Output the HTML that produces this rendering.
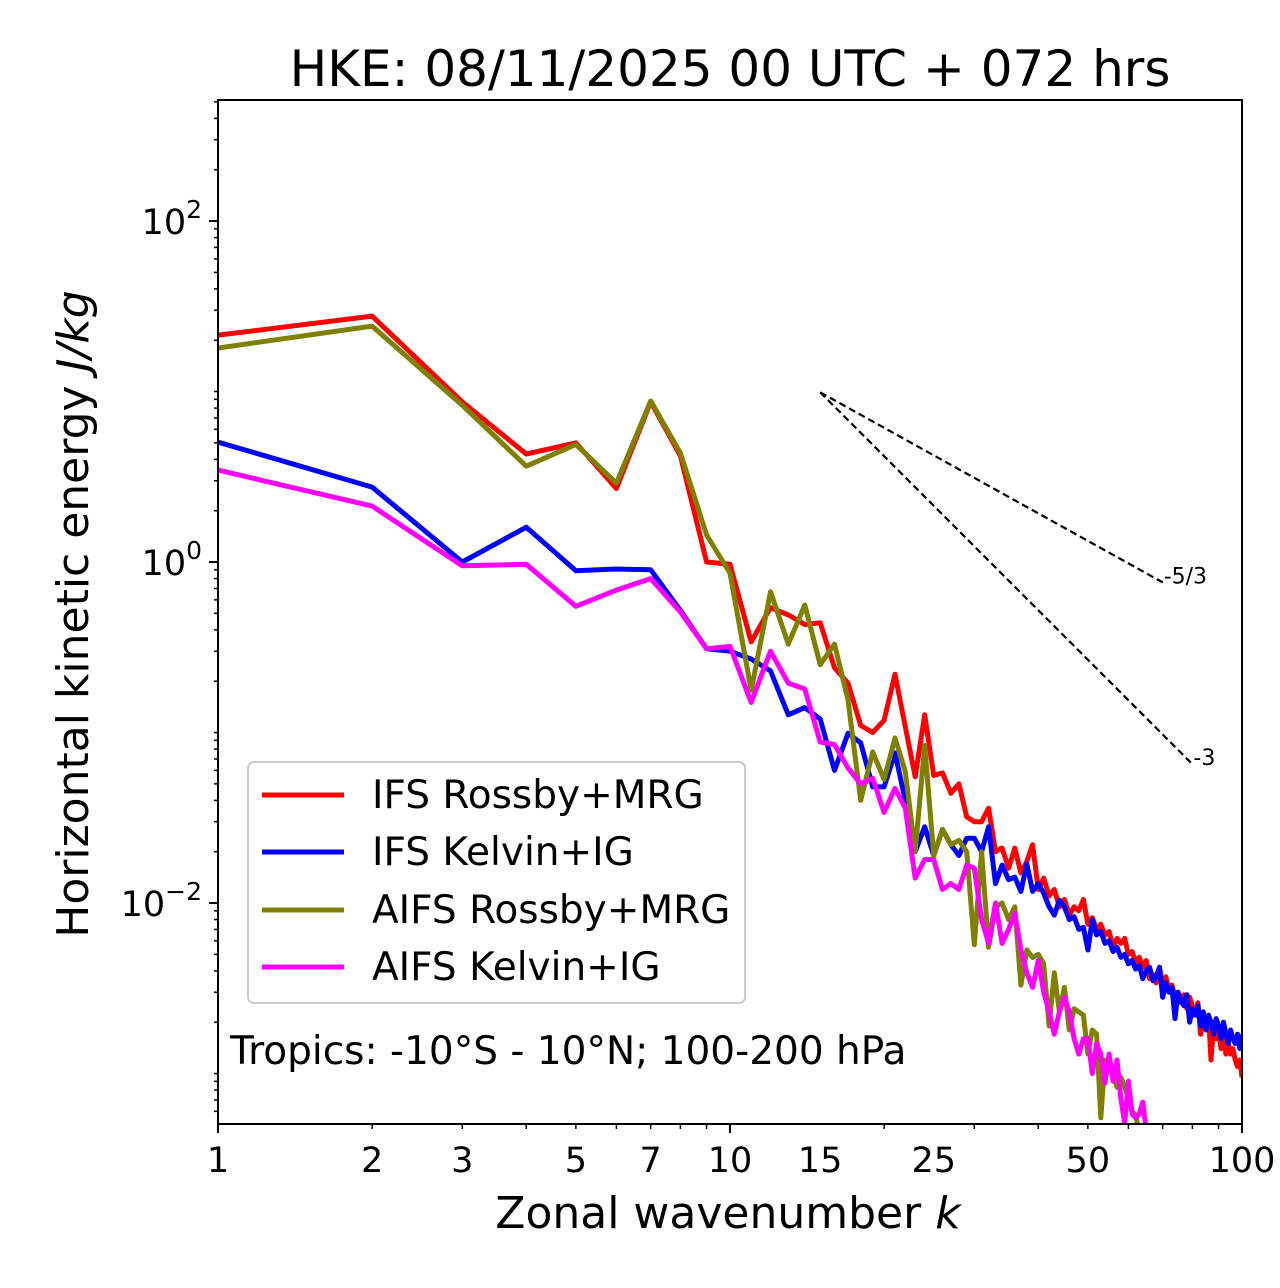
<!DOCTYPE html>
<html><head><meta charset="utf-8"><style>
body{margin:0;background:#fff;}
svg{display:block;font-family:"DejaVu Sans","Liberation Sans",sans-serif;}
</style></head><body>
<svg id="chart" width="1280" height="1288" xmlns="http://www.w3.org/2000/svg">
<defs><clipPath id="plotclip"><rect x="218" y="100" width="1024" height="1024"/></clipPath></defs>
<text x="730" y="86" font-size="50" text-anchor="middle">HKE: 08/11/2025 00 UTC + 072 hrs</text>
<g id="axes"></g>
<g id="series" clip-path="url(#plotclip)"></g>
<rect x="218" y="100" width="1024" height="1024" fill="none" stroke="#000" stroke-width="2"/>
<text transform="translate(88,614) rotate(-90)" font-size="44" text-anchor="middle">Horizontal kinetic energy <tspan font-style="italic">J/kg</tspan></text>
<text x="728" y="1228" font-size="44" text-anchor="middle">Zonal wavenumber <tspan font-style="italic">k</tspan></text>
<text x="230" y="1064" font-size="39">Tropics: -10°S - 10°N; 100-200 hPa</text>
<g>
<rect x="248" y="762" width="497" height="241" rx="6" fill="#fff" fill-opacity="0.8" stroke="#ccc" stroke-width="2"/>
<line x1="262" y1="795" x2="344" y2="795" stroke="#ff0000" stroke-width="5"/>
<text x="372" y="808" font-size="39">IFS Rossby+MRG</text>
<line x1="262" y1="852" x2="344" y2="852" stroke="#0000ff" stroke-width="5"/>
<text x="372" y="865" font-size="39">IFS Kelvin+IG</text>
<line x1="262" y1="910" x2="344" y2="910" stroke="#808000" stroke-width="5"/>
<text x="372" y="923" font-size="39">AIFS Rossby+MRG</text>
<line x1="262" y1="967" x2="344" y2="967" stroke="#ff00ff" stroke-width="5"/>
<text x="372" y="980" font-size="39">AIFS Kelvin+IG</text>
</g>
</svg>
<script>
const ifsRossby=[21.4,27.7,8.7,4.3,5.0,2.7,8.7,4.2,1.0,0.97,0.34,0.54,0.49,0.43,0.44,0.24,0.195,0.11,0.10,0.118,0.22,0.108,0.055,0.127,0.056,0.058,0.044,0.05,0.032,0.030,0.030,0.036,0.020,0.021,0.016,0.021,0.015,0.0175,0.022,0.012,
0.014,0.011,0.012,0.0095,0.0105,0.0085,0.0095,0.009,0.0105,0.0075,0.0082,0.007,0.0075,0.0065,0.0068,0.0055,0.0062,0.0058,0.0062,0.005,0.0052,0.0045,0.0048,0.0042,0.0046,0.0036,0.0038,0.0034,0.0042,0.0033,0.0037,0.0031,0.0033,0.0028,0.0030,0.0026,0.0029,0.0024,0.0028,0.0025,0.0022,0.0026,0.0017,0.0023,0.0020,0.0022,0.0012,0.0019,0.0016,0.0018,0.0014,0.0017,0.0013,0.0015,0.0013,0.0014,0.0012,0.0011,0.0012,0.00095];
const ifsKelvin=[5.05,2.75,1.0,1.6,0.89,0.91,0.9,0.52,0.31,0.30,0.27,0.23,0.127,0.14,0.12,0.06,0.099,0.087,0.048,0.048,0.076,0.04,0.02,0.028,0.019,0.027,0.022,0.019,0.024,0.024,0.02,0.028,0.013,0.0167,0.0137,0.0142,0.0117,0.017,0.0117,0.013,
0.0114,0.0095,0.0085,0.0104,0.0095,0.008,0.0083,0.007,0.0072,0.0053,0.008,0.0065,0.0068,0.0058,0.006,0.0052,0.0055,0.0048,0.005,0.0044,0.0046,0.0041,0.0043,0.0036,0.0040,0.0042,0.0035,0.0037,0.0042,0.0028,0.0034,0.0030,0.0032,0.0021,0.0030,0.0027,0.0025,0.0029,0.0020,0.0024,0.0022,0.0025,0.0019,0.0023,0.0018,0.0022,0.0020,0.0017,0.0021,0.0019,0.0016,0.0020,0.0017,0.0015,0.0018,0.0016,0.0015,0.0017,0.0014,0.0017];
const aifsRossby=[18,24.2,8.3,3.65,4.9,2.9,8.8,4.36,1.44,0.86,0.177,0.67,0.33,0.56,0.25,0.33,0.155,0.04,0.077,0.053,0.093,0.059,0.02,0.084,0.019,0.027,0.022,0.0233,0.020,0.0057,0.02,0.0055,0.0095,0.01,0.008,0.0095,0.0033,0.0053,0.0048,0.005,0.0044,0.0019,0.0039,0.0023,0.0032,0.0018,0.0024,0.0023,0.0022,0.0013,0.0018,0.0017,0.00055,0.0012,0.0011,0.001,0.00083,0.00095,0.00083,0.00072,0.0006,0.00057,0.00045,0.0004,0.00035];
const aifsKelvin=[3.46,2.13,0.95,0.97,0.55,0.685,0.8,0.51,0.31,0.32,0.15,0.30,0.195,0.18,0.088,0.085,0.062,0.05,0.054,0.034,0.047,0.036,0.014,0.018,0.018,0.012,0.013,0.012,0.0167,0.016,0.008,0.0058,0.01,0.0058,0.007,0.0087,0.0053,0.0039,0.0032,0.0046,0.003,0.0023,0.0017,0.0023,0.0028,0.0023,0.0016,0.0013,0.0016,0.0016,0.001,0.0015,0.0013,0.00088,0.0013,0.0009,0.0012,0.00071,0.00051,0.0009,0.00058,0.00055,0.00058,0.00068,0.00047];
const xTickValues=[1,2,3,5,7,10,15,25,50,100];
const xTickLabels=["1","2","3","5","7","10","15","25","50","100"];
const yTickExps=[2,0,-2];
const slopeRefs=[{name:"-5/3",p:5/3,k0:15,e0:9.9,k1:70},{name:"-3",p:3,k0:15,e0:9.9,k1:80}];

const NS="http://www.w3.org/2000/svg";
const X0=218,X1=1242,Y0=100,Y1=1124,YMAX=2.71,YMIN=-3.296;
const xs=k=>X0+(X1-X0)*Math.log10(k)/2;
const ys=v=>Y0+(Y1-Y0)*(YMAX-Math.log10(v))/(YMAX-YMIN);
function mk(tag,attrs,parent){const e=document.createElementNS(NS,tag);for(const a in attrs)e.setAttribute(a,attrs[a]);parent.appendChild(e);return e;}
const axes=document.getElementById('axes'),series=document.getElementById('series');

for(let d=0;d<2;d++)for(let m=1;m<10;m++){const k=m*Math.pow(10,d);const x=xs(k);const major=(m===1);
 const t=mk('line',{x1:x,x2:x,y1:Y1,y2:Y1+(major?9:5),stroke:'#000','stroke-width':major?2:1.5},axes);
 
 }
{const t=mk('line',{x1:X1,x2:X1,y1:Y1,y2:Y1+9,stroke:'#000','stroke-width':2},axes);
 
 }
xTickValues.forEach((k,i)=>{const t=mk('text',{x:xs(k),y:Y1+48,'font-size':35,'text-anchor':'middle'},axes);t.textContent=xTickLabels[i];
 
 });
for(let d=-4;d<=2;d++)for(let m=1;m<10;m++){const v=m*Math.pow(10,d);const lv=Math.log10(v);if(lv>YMAX||lv<YMIN)continue;const y=ys(v);
 const major=(m===1&&d%2===0);
 const t=mk('line',{x1:X0,x2:X0-(major?9:4),y1:y,y2:y,stroke:'#000','stroke-width':major?2:1.5},axes);
 
 }
yTickExps.forEach(e=>{const t=mk('text',{x:X0-16,y:ys(Math.pow(10,e))+13,'font-size':35,'text-anchor':'end'},axes);
 t.innerHTML='10<tspan dy="-16" font-size="25">'+(e<0?'\u2212'+(-e):e)+'</tspan>';
 
 });
function draw(data,color,name){const pts=data.map((v,i)=>xs(i+1).toFixed(1)+','+ys(v).toFixed(1)).join(' ');
 const p=mk('polyline',{points:pts,fill:'none',stroke:color,'stroke-width':5,'stroke-linejoin':'round'},series);
 
 }
draw(ifsRossby,'#ff0000','ifs-rossby-line');
draw(ifsKelvin,'#0000ff','ifs-kelvin-line');
draw(aifsRossby,'#808000','aifs-rossby-line');
draw(aifsKelvin,'#ff00ff','aifs-kelvin-line');
slopeRefs.forEach(r=>{const e1=r.e0*Math.pow(r.k1/r.k0,-r.p);
 const l=mk('line',{x1:xs(r.k0),y1:ys(r.e0),x2:xs(r.k1),y2:ys(e1),stroke:'#000','stroke-width':2.2,'stroke-dasharray':'7,4'},axes);
 
 
 const t=mk('text',{x:xs(r.k1)+1,y:ys(e1)+1,'font-size':22},axes);t.textContent=r.name;
 
 });
</script>
</body></html>
